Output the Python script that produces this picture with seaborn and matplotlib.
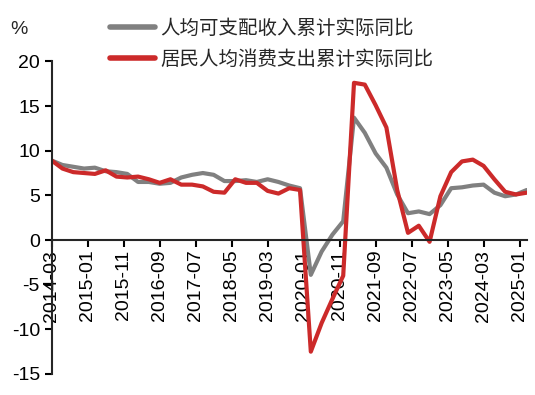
import pandas as pd
import matplotlib
matplotlib.use("Agg")
import matplotlib.pyplot as plt
import seaborn as sns

# 季度数据 2014Q1 - 2025Q1（累计实际同比，%）
quarters = pd.period_range("2014Q1", "2025Q1", freq="Q")
income = [8.9, 8.4, 8.2, 8.0,
          8.1, 7.7, 7.6, 7.4,
          6.5, 6.5, 6.3, 6.4,
          7.0, 7.3, 7.5, 7.3,
          6.6, 6.6, 6.7, 6.5,
          6.8, 6.5, 6.1, 5.8,
          -3.9, -1.3, 0.6, 2.1,
          13.7, 12.0, 9.7, 8.1,
          5.1, 3.0, 3.2, 2.9,
          3.9, 5.8, 5.9, 6.1,
          6.2, 5.3, 4.9, 5.1,
          5.6]
consumption = [8.9, 8.0, 7.6, 7.5,
               7.4, 7.8, 7.1, 7.0,
               7.1, 6.8, 6.4, 6.8,
               6.2, 6.2, 6.0, 5.4,
               5.3, 6.8, 6.4, 6.4,
               5.5, 5.2, 5.8, 5.6,
               -12.5, -9.3, -6.6, -4.0,
               17.6, 17.4, 15.1, 12.6,
               5.6, 0.8, 1.6, -0.2,
               4.9, 7.6, 8.8, 9.0,
               8.3, 6.8, 5.4, 5.1,
               5.3]
series_names = ["人均可支配收入累计实际同比", "居民人均消费支出累计实际同比"]
tick_labels = ["2014-03", "2015-01", "2015-11", "2016-09", "2017-07", "2018-05",
               "2019-03", "2020-01", "2020-11", "2021-09", "2022-07", "2023-05",
               "2024-03", "2025-01"]

# 以 2014-03 为起点的月份序号
start = pd.Period("2014-03", freq="M")
months = [(q.asfreq("M", how="end") - start).n for q in quarters]
tick_pos = [(pd.Period(t, freq="M") - start).n for t in tick_labels]

df = pd.DataFrame({
    "month": months * 2,
    "value": income + consumption,
    "series": [series_names[0]] * len(income) + [series_names[1]] * len(consumption),
})

sns.set_style("ticks")
plt.rcParams["font.family"] = ["Liberation Sans", "Noto Sans CJK SC", "DejaVu Sans"]
plt.rcParams["axes.unicode_minus"] = False

fig = plt.figure(figsize=(5.35, 3.95), dpi=100)
ax = fig.add_axes([0.0966, 0.0532, 0.888, 0.7914])

sns.lineplot(data=df, x="month", y="value", hue="series", hue_order=series_names,
             palette=["#808080", "#cc2a2a"], linewidth=3.0, ax=ax, legend=False)

ax.set_xlim(0, 132)
ax.set_ylim(-15, 20)
ax.set_yticks(range(-15, 21, 5))
ax.set_xticks(tick_pos)
ax.set_xticklabels(tick_labels)
ax.tick_params(axis="both", labelsize=14, width=1.5, length=5, colors="black")
ax.tick_params(axis="x", labelrotation=90, pad=2)
ax.set_xlabel("")
ax.set_ylabel("")

ax.spines["top"].set_visible(False)
ax.spines["right"].set_visible(False)
ax.spines["bottom"].set_position(("data", 0))
for s in ["left", "bottom"]:
    ax.spines[s].set_linewidth(1.5)

fig.text(19 / 535, 1 - 29 / 395, "%", fontsize=14, ha="center", va="center")

handles = [plt.Line2D([], [], color="#808080", linewidth=4),
           plt.Line2D([], [], color="#cc2a2a", linewidth=4)]
fig.legend(handles, series_names, loc="upper left",
           bbox_to_anchor=(110 / 535, 1 - 18 / 395), frameon=False,
           prop={"family": "Noto Sans CJK SC", "size": 14},
           handlelength=2.3, handletextpad=0.3, labelspacing=0.5, borderpad=0,
           borderaxespad=0)

fig.savefig("out.png", dpi=100)
